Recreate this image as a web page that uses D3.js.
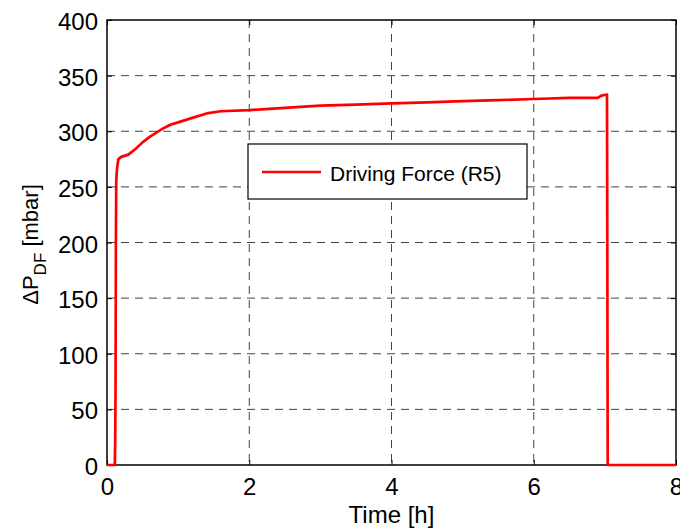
<!DOCTYPE html>
<html><head><meta charset="utf-8">
<script src="https://cdn.jsdelivr.net/npm/d3@7"></script>
<style>body{margin:0;background:#fff}svg{display:block}text{font-family:"Liberation Sans",Arial,sans-serif}</style>
</head><body><svg id="c" width="680" height="529"></svg>
<script>
const timeH = [0,0.11,0.115,0.12,0.125,0.13,0.14,0.16,0.2,0.3,0.4,0.5,0.6,0.7,0.8,0.9,1.0,1.2,1.4,1.6,2.0,2.5,3.0,3.5,4.0,4.5,5.0,5.5,6.0,6.5,6.9,6.95,7.03,7.04,8];
const dpDF  = [0,0,20,65,200,255,266,275,277,279,284,290,295,299,303,306,308,312,316,318,319,321,323,324,325,326,327,328,329,330,330,332,333,0,0];
const xTicks = [0,2,4,6,8];
const yTicks = [0,50,100,150,200,250,300,350,400];
const seriesName = "Driving Force (R5)";

const svg = d3.select("#c");
const L=107, R=676, T=20, B=465;
const x = d3.scaleLinear().domain([0,8]).range([L,R]);
const y = d3.scaleLinear().domain([0,400]).range([B,T]);

// grid
const g = svg.append("g");
g.selectAll(".vg").data(xTicks.slice(1,-1)).enter().append("line")
  .attr("x1",d=>x(d)).attr("x2",d=>x(d)).attr("y1",T).attr("y2",B)
  .attr("stroke","#444").attr("stroke-width",1).attr("stroke-dasharray","8,6");
g.selectAll(".hg").data(yTicks.slice(1,-1)).enter().append("line")
  .attr("y1",d=>y(d)).attr("y2",d=>y(d)).attr("x1",L).attr("x2",R)
  .attr("stroke","#444").attr("stroke-width",1).attr("stroke-dasharray","8,6");

// frame
svg.append("rect").attr("x",L).attr("y",T).attr("width",R-L).attr("height",B-T)
  .attr("fill","none").attr("stroke","#000").attr("stroke-width",1.5);

// axes
const ax = svg.append("g").attr("transform",`translate(0,${B})`)
  .call(d3.axisBottom(x).tickValues(xTicks).tickSize(-5).tickFormat(d3.format("d")));
ax.selectAll(".tick text").attr("y",30).attr("dy",null);
const ay = svg.append("g").attr("transform",`translate(${L},0)`)
  .call(d3.axisLeft(y).tickValues(yTicks).tickSize(-5).tickFormat(d3.format("d")));
ay.selectAll(".tick text").attr("x",-9).attr("dy","0.4em");
svg.append("g").attr("transform",`translate(0,${T})`)
  .call(d3.axisTop(x).tickValues(xTicks).tickSize(-5).tickFormat(""));
svg.append("g").attr("transform",`translate(${R},0)`)
  .call(d3.axisRight(y).tickValues(yTicks).tickSize(-5).tickFormat(""));
svg.selectAll(".domain").remove();
svg.selectAll(".tick line").attr("stroke","#000");
svg.selectAll(".tick text").attr("font-size",24).attr("fill","#000")
  .attr("font-family","'Liberation Sans',Arial,sans-serif");

// line
const line = d3.line().x((d,i)=>x(timeH[i])).y(d=>y(d));
svg.append("path").datum(dpDF).attr("d",line).attr("fill","none")
  .attr("stroke","#ff0000").attr("stroke-width",2.7).attr("stroke-linejoin","round");

// labels
svg.append("text").attr("x",x(4)).attr("y",523).attr("text-anchor","middle")
  .attr("font-size",24).text("Time [h]");
const yl = svg.append("text").attr("transform",`translate(38,${(T+B)/2+2}) rotate(-90)`)
  .attr("text-anchor","middle").attr("font-size",22);
yl.append("tspan").text("ΔP");
yl.append("tspan").attr("font-size",17).attr("dy",8).text("DF");
yl.append("tspan").attr("dy",-8).text(" [mbar]");

// legend
const lg = svg.append("g");
lg.append("rect").attr("x",248).attr("y",144).attr("width",279).attr("height",55)
  .attr("fill","#fff").attr("stroke","#000").attr("stroke-width",1.2);
lg.append("line").attr("x1",262).attr("x2",321).attr("y1",172).attr("y2",172)
  .attr("stroke","#ff0000").attr("stroke-width",2.5);
lg.append("text").attr("x",330).attr("y",181).attr("font-size",21).text(seriesName);
</script></body></html>
